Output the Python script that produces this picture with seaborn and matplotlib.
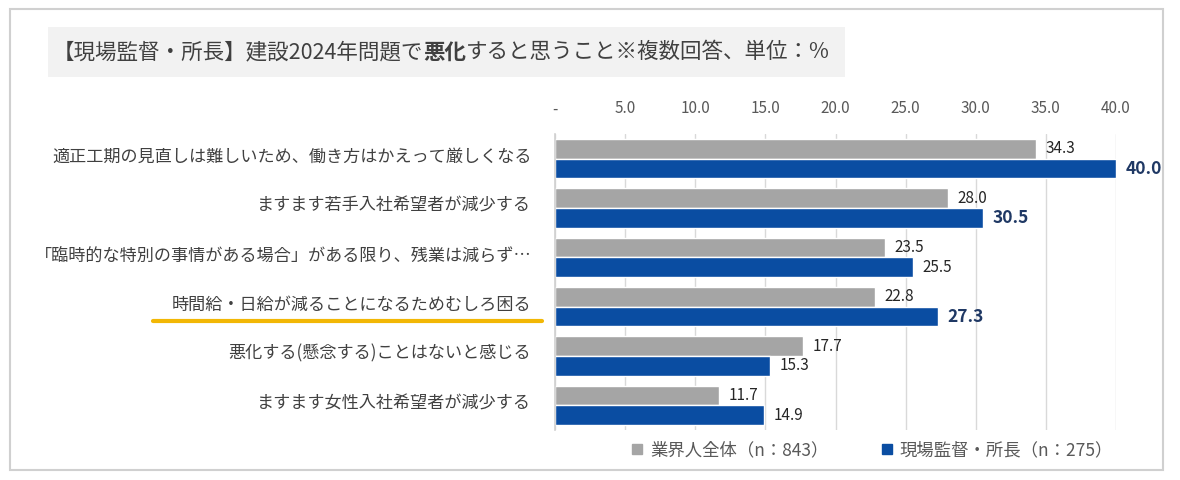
import pandas as pd
import seaborn as sb
import matplotlib.pyplot as plt
import matplotlib.transforms as mtrans
from matplotlib.lines import Line2D
from matplotlib.patches import Rectangle

# data
categories = [
    "適正工期の見直しは難しいため、働き方はかえって厳しくなる",
    "ますます若手入社希望者が減少する",
    "「臨時的な特別の事情がある場合」がある限り、残業は減らず…",
    "時間給・日給が減ることになるためむしろ困る",
    "悪化する(懸念する)ことはないと感じる",
    "ますます女性入社希望者が減少する",
]
all_industry = [34.3, 28.0, 23.5, 22.8, 17.7, 11.7]
site_managers = [40.0, 30.5, 25.5, 27.3, 15.3, 14.9]
series_names = ["業界人全体（n：843）", "現場監督・所長（n：275）"]
x_ticks = [0, 5, 10, 15, 20, 25, 30, 35, 40]
x_tick_labels = ["-", "5.0", "10.0", "15.0", "20.0", "25.0", "30.0", "35.0", "40.0"]

# styling
highlight_rows = [0, 1, 3]
GRAY = "#A5A5A5"
BLUE = "#0A4DA2"
NAVY = "#1F3864"
TEXT = "#404040"
W, H = 1180, 480


def fx(px):
    return px / W


def fy(py):
    return 1 - py / H


def main():
    sb.set_theme(style="white")
    plt.rcParams["font.family"] = ["Noto Sans CJK JP", "DejaVu Sans"]

    df = pd.DataFrame({
        "category": categories * 2,
        "value": all_industry + site_managers,
        "series": [series_names[0]] * len(categories) + [series_names[1]] * len(categories),
    })

    fig = plt.figure(figsize=(11.8, 4.8), dpi=100)
    ax = fig.add_axes([fx(555), fy(430), fx(1116) - fx(555), (430 - 134) / H])

    sb.barplot(
        data=df, x="value", y="category", hue="series", orient="h",
        palette=[GRAY, BLUE], width=0.8, saturation=1, ax=ax, legend=False,
    )

    ax.set_xlim(0, 40)
    ax.set_xticks(x_ticks)
    ax.set_xticklabels(x_tick_labels)
    ax.xaxis.tick_top()
    ax.tick_params(axis="x", length=0, pad=12, labelsize=11, labelcolor="#595959")
    ax.tick_params(axis="y", length=0, pad=17, labelsize=12.3, labelcolor=TEXT)
    shift = mtrans.ScaledTranslation(0, 3 / 72, fig.dpi_scale_trans)
    for lbl in ax.get_yticklabels():
        lbl.set_transform(lbl.get_transform() + shift)
    ax.set_xlabel("")
    ax.set_ylabel("")
    ax.set_axisbelow(True)
    ax.grid(True, axis="x", color="#D9D9D9", linewidth=1)
    for s in ["top", "right", "bottom"]:
        ax.spines[s].set_visible(False)
    ax.spines["left"].set_color("#D0D0D0")
    ax.spines["left"].set_linewidth(1.2)

    # value labels
    for ci, cont in enumerate(ax.containers):
        for i, bar in enumerate(cont):
            v = bar.get_width()
            yc = bar.get_y() + bar.get_height() / 2
            bold = ci == 1 and i in highlight_rows
            ax.annotate(
                f"{v:.1f}", (v, yc), xytext=(7, 0), textcoords="offset points",
                va="center", ha="left",
                fontsize=12.5 if bold else 11,
                fontweight="bold" if bold else "normal",
                color=NAVY if bold else "#262626",
                annotation_clip=False,
            )

    # underline highlight
    fig.add_artist(Line2D([fx(153), fx(542)], [fy(321), fy(321)],
                          color="#F2B705", linewidth=3, transform=fig.transFigure))

    # outer border and title box
    fig.add_artist(Rectangle((fx(10), fy(470)), fx(1163) - fx(10), (470 - 9) / H,
                             transform=fig.transFigure, fill=False,
                             edgecolor="#D0D0D0", linewidth=1.5))
    fig.add_artist(Rectangle((fx(48), fy(77)), fx(845) - fx(48), (77 - 27) / H,
                             transform=fig.transFigure, facecolor="#F2F2F2",
                             edgecolor="none", zorder=0))

    # title with bold part
    renderer = fig.canvas.get_renderer()
    parts = [("【現場監督・所長】建設2024年問題で", "normal"), ("悪化", "bold"),
             ("すると思うこと※複数回答、単位：%", "normal")]
    x = fx(53)
    for txt, wt in parts:
        t = fig.text(x, fy(52), txt, fontsize=15.5, fontweight=wt, color=TEXT,
                     va="center", ha="left")
        bb = t.get_window_extent(renderer=renderer)
        x += bb.width / W

    # legend
    handles = [
        Line2D([], [], marker="s", linestyle="none", markersize=7.5,
               markerfacecolor=GRAY, markeredgecolor=GRAY, label=series_names[0]),
        Line2D([], [], marker="s", linestyle="none", markersize=7.5,
               markerfacecolor=BLUE, markeredgecolor=BLUE, label=series_names[1]),
    ]
    fig.legend(handles=handles, loc="center", bbox_to_anchor=(fx(872), fy(450)),
               ncol=2, frameon=False, fontsize=12.5, labelcolor="#595959",
               handlelength=0.7, handletextpad=0.4, columnspacing=3.0)

    fig.savefig("out.png", dpi=100)


if __name__ == "__main__":
    main()
